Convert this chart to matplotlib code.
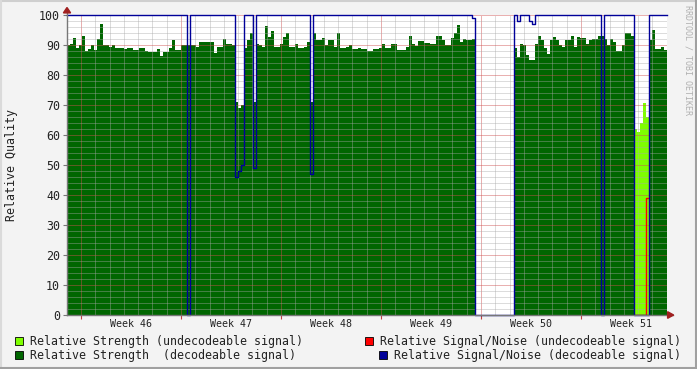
import numpy as np
import matplotlib
matplotlib.use('Agg')
import matplotlib.pyplot as plt
from matplotlib.patches import Rectangle, Polygon

# samples every 0.21 day (~5 h), 42 days shown
step_days = 0.21

strength_dec = [
    90, 90.5, 92.5, 89, 90, 93, 88, 88.6, 90, 88.3,
    92, 97, 90, 90, 89.2, 90, 89, 89, 89, 88.6,
    89, 89, 88.3, 88.3, 89, 89, 88, 87.8, 87.8, 87.8,
    88.6, 86.3, 87.8, 87.8, 89, 91.6, 88.3, 88.3, 90, 90,
    90, 90, 90, 89.4, 91, 91, 91, 91, 91, 87.5,
    89.5, 89.5, 92, 90.5, 90.5, 90, 71, 69, 70, 89,
    91.7, 94, 71, 90.5, 90, 89.5, 96.3, 92.6, 94.8, 89.5,
    89.5, 90.5, 92.6, 94, 89.5, 89.5, 90.5, 89, 89, 89.5,
    91, 71, 94, 91.7, 91.7, 92.4, 90, 91.6, 91.6, 89.5,
    94, 89, 89, 89.2, 90, 88.6, 88.6, 89, 88.6, 88.6,
    88, 88, 88.6, 88.6, 89, 90.5, 89, 89, 90.5, 90.5,
    88.3, 88.3, 88.3, 89.5, 93, 90.5, 89.8, 91.4, 91.4, 90.8,
    90.8, 90.5, 90.5, 93, 93, 91.6, 90, 90, 92.4, 94,
    96.7, 91, 92, 91.6, 91.6, 92, 0, 0, 0, 0,
    0, 0, 0, 0, 0, 0, 0, 0, 0, 89,
    86, 90.5, 90, 86.7, 85, 85, 90.5, 93, 91.7, 89,
    87, 91.6, 92.7, 91.6, 90, 89.2, 91.6, 91.6, 93, 89.5,
    92.7, 92.2, 92.2, 90.5, 91.6, 92, 92, 93, 93, 92,
    90, 92, 91, 88, 88, 90, 94, 94, 93, 0,
    0, 0, 0, 0, 91.7, 95, 88.6, 88.6, 89.2, 88.3,
]

snr_dec = [100.0] * 200
for i, v in {40: 0, 56: 46, 57: 48, 58: 50, 62: 49, 81: 47, 135: 99,
             150: 98, 154: 98, 155: 97, 178: 0}.items():
    snr_dec[i] = v
for i in list(range(136, 149)) + list(range(189, 194)):
    snr_dec[i] = 0

strength_undec = [0.0] * 200
strength_undec[189:194] = [62, 61, 64, 70.6, 66]

snr_undec = [np.nan] * 200
snr_undec[189:194] = [0, 0, 0, 0, 39]

week_labels = ['Week 46', 'Week 47', 'Week 48', 'Week 49', 'Week 50', 'Week 51']
first_monday = 0.98

W, H = 697, 369
plt.rcParams['font.family'] = 'DejaVu Sans Mono'
fig = plt.figure(figsize=(W / 100, H / 100), dpi=100, facecolor='#F3F3F3')
ax = fig.add_axes([67 / W, (H - 315) / H, 600 / W, 300 / H])
ax.set_facecolor('white')

t = np.arange(len(strength_dec) + 1) * step_days


def ext(a):
    a = np.asarray(a, dtype=float)
    return np.append(a, a[-1])


ax.fill_between(t, 0, ext(strength_dec), step='post', color='#006600', lw=0, zorder=2)
ax.fill_between(t, 0, ext(strength_undec), step='post', color='#7FFF00', lw=0, zorder=2)
ax.step(t, ext(snr_undec), where='post', color='#FF0000', lw=1.0, zorder=3)
ax.step(t, ext(snr_dec), where='post', color='#000099', lw=1.0, zorder=4, clip_on=False)

ax.set_xlim(0, 42)
ax.set_ylim(0, 100)

weeks = [first_monday + 7 * k for k in range(6)]
days = [first_monday + k for k in range(-1, 42) if 0 < first_monday + k < 42]
ax.set_xticks(weeks)
ax.set_xticklabels([])
ax.set_xticks(days, minor=True)
ax.set_yticks(range(0, 101, 10))
ax.set_yticks(range(0, 101, 2), minor=True)

ax.set_axisbelow(False)
ax.grid(which='major', color='#D05050', alpha=0.45, lw=0.72, ls=(0, (1, 1)),
        antialiased=False)
ax.grid(which='minor', color='#A8A8A8', alpha=0.4, lw=0.72, ls=(0, (1, 1)),
        antialiased=False)

for s in ax.spines.values():
    s.set_visible(False)
ax.tick_params(axis='y', which='major', length=3, color='#777777', labelsize=8.4,
               pad=2, labelcolor='#222222')
ax.tick_params(axis='y', which='minor', length=0)
ax.tick_params(axis='x', which='major', length=3, color='#C04040')
ax.tick_params(axis='x', which='minor', length=0)

for k, lab in enumerate(week_labels):
    ax.text(weeks[k] + 3.5, -0.03, lab, transform=ax.get_xaxis_transform(),
            ha='center', va='center', fontsize=7.2, color='#222222')

# axis lines with arrows
ax.plot([0, 0], [0, 1.02], transform=ax.transAxes, color='#777777', lw=1, clip_on=False, zorder=5)
ax.plot([0, 1.01], [0, 0], transform=ax.transAxes, color='#777777', lw=1, clip_on=False, zorder=5)
ax.add_patch(Polygon([(-0.006, 1.007), (0.006, 1.007), (0, 1.025)], closed=True,
                     transform=ax.transAxes, color='#A02020', clip_on=False, zorder=6))
ax.add_patch(Polygon([(1.001, -0.011), (1.001, 0.011), (1.011, 0)], closed=True,
                     transform=ax.transAxes, color='#A02020', clip_on=False, zorder=6))

fig.text(12 / W, 1 - 165 / H, 'Relative Quality', rotation=90, ha='center', va='center',
         fontsize=8.4, color='#222222')
fig.text(688 / W, 1 - 60 / H, 'RRDTOOL / TOBI OETIKER', rotation=270, ha='center', va='center',
         fontsize=6, color='#B0B0B0')

legend = [
    (15, 341, '#7FFF00', 'Relative Strength (undecodeable signal)'),
    (365, 341, '#FF0000', 'Relative Signal/Noise (undecodeable signal)'),
    (15, 355, '#006600', 'Relative Strength  (decodeable signal)'),
    (379, 355, '#000099', 'Relative Signal/Noise (decodeable signal)'),
]
for x0, y0, col, lab in legend:
    fig.patches.append(Rectangle((x0 / W, 1 - (y0 + 4) / H), 8 / W, 8 / H, facecolor=col,
                                 edgecolor='black', lw=0.6, transform=fig.transFigure))
    fig.text((x0 + 15) / W, 1 - y0 / H, lab, ha='left', va='center', fontsize=8.4, color='#222222')

# frame
fig.add_artist(plt.Line2D([0, 1], [1 - 1 / H, 1 - 1 / H], color='#CFCFCF', lw=1.5))
fig.add_artist(plt.Line2D([1 / W, 1 / W], [0, 1], color='#DADADA', lw=1.5))
fig.add_artist(plt.Line2D([0, 1], [1 / H, 1 / H], color='#A0A0A0', lw=1.5))
fig.add_artist(plt.Line2D([1 - 1 / W, 1 - 1 / W], [0, 1], color='#A0A0A0', lw=1.5))

fig.savefig('out.png', dpi=100, facecolor=fig.get_facecolor())
